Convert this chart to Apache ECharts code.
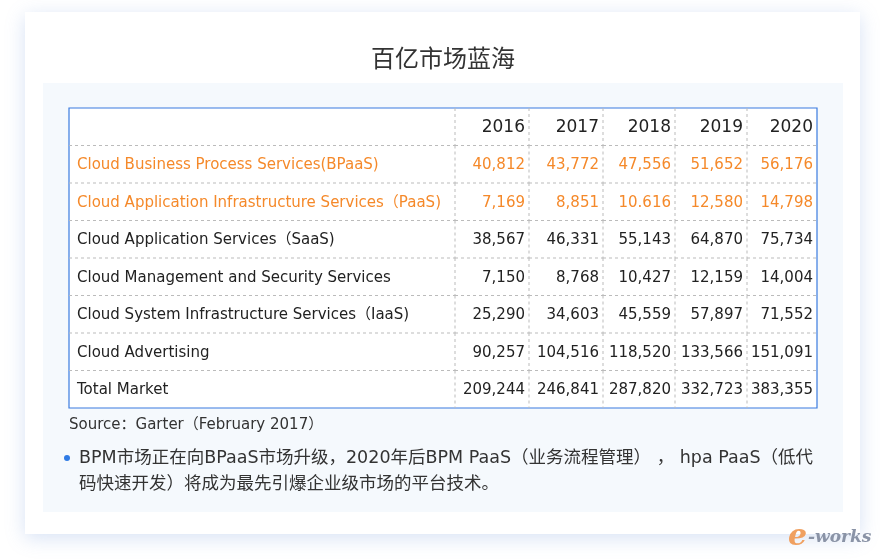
<!DOCTYPE html>
<html>
<head>
<meta charset="utf-8">
<script src="https://cdn.jsdelivr.net/npm/echarts@6/dist/echarts.min.js"></script>
<style>html,body{margin:0;padding:0;background:#fff}#main{width:880px;height:560px}</style>
</head>
<body>
<div id="main"></div>
<script>
// 表格数据
const years = ["2016", "2017", "2018", "2019", "2020"];
const categories = [
    "Cloud Business Process Services(BPaaS)",
    "Cloud Application Infrastructure Services（PaaS)",
    "Cloud Application Services（SaaS)",
    "Cloud Management and Security Services",
    "Cloud System Infrastructure Services（IaaS)",
    "Cloud Advertising",
    "Total Market"
];
const values = [
    ["40,812", "43,772", "47,556", "51,652", "56,176"],
    ["7,169", "8,851", "10.616", "12,580", "14,798"],
    ["38,567", "46,331", "55,143", "64,870", "75,734"],
    ["7,150", "8,768", "10,427", "12,159", "14,004"],
    ["25,290", "34,603", "45,559", "57,897", "71,552"],
    ["90,257", "104,516", "118,520", "133,566", "151,091"],
    ["209,244", "246,841", "287,820", "332,723", "383,355"]
];
const highlightRows = [0, 1];

// 列边界（表格坐标）
const colEdges = [0, 386, 460, 534, 606, 678, 748];
const nRows = categories.length + 1;
const FONT = "'DejaVu Sans', 'Noto Sans CJK SC'";

let cells = [];
years.forEach((y, j) => cells.push([0, j + 1, y]));
categories.forEach((c, i) => {
    cells.push([i + 1, 0, c]);
    values[i].forEach((v, j) => cells.push([i + 1, j + 1, v]));
});

let myChart = echarts.init(document.getElementById("main"));
myChart.setOption({
    animation: false,
    backgroundColor: "#fff",
    graphic: [
        {type: "rect", shape: {x: 25, y: 12, width: 835, height: 522},
         style: {fill: "#fff", shadowBlur: 18, shadowColor: "rgba(110,150,220,0.28)", shadowOffsetY: 4}},
        {type: "rect", shape: {x: 43, y: 83, width: 800, height: 429}, style: {fill: "#f5f9fd"}},
        {type: "text", x: 443, y: 58, style: {text: "百亿市场蓝海", font: "24px 'Noto Sans CJK SC'", fill: "#333", align: "center", verticalAlign: "middle"}},
        {type: "text", x: 69, y: 425, style: {text: "Source：Garter（February 2017）", font: "15px " + FONT, fill: "#333", verticalAlign: "middle"}},
        {type: "circle", shape: {cx: 67, cy: 458, r: 3}, style: {fill: "#2f7be5"}},
        {type: "text", x: 79, y: 458, style: {text: "BPM市场正在向BPaaS市场升级，2020年后BPM PaaS（业务流程管理） ， hpa PaaS（低代", font: "17.5px " + FONT, fill: "#333", verticalAlign: "middle"}},
        {type: "text", x: 79, y: 484, style: {text: "码快速开发）将成为最先引爆企业级市场的平台技术。", font: "17.5px " + FONT, fill: "#333", verticalAlign: "middle"}},
        {type: "text", x: 788, y: 537, style: {text: "e", font: "italic bold 30px 'DejaVu Serif'", fill: "#f0a060", verticalAlign: "middle"}},
        {type: "text", x: 808, y: 538, style: {text: "-works", font: "italic bold 17px 'DejaVu Serif'", fill: "#8a93a6", verticalAlign: "middle"}}
    ],
    grid: {left: 69, right: 63, top: 108, bottom: 152},
    xAxis: {type: "value", min: 0, max: 748, show: false},
    yAxis: {type: "value", min: 0, max: nRows, inverse: true, show: false},
    series: [{
        type: "custom",
        data: cells,
        encode: {x: 1, y: 0},
        renderItem: function (params, api) {
            let r = api.value(0), c = api.value(1), txt = cells[params.dataIndex][2];
            let p0 = api.coord([colEdges[c], r]);
            let p1 = api.coord([colEdges[c + 1], r + 1]);
            let children = [];
            // 虚线格线
            if (r > 0) children.push({type: "line", shape: {x1: p0[0], y1: p0[1], x2: p1[0], y2: p0[1]},
                style: {stroke: "#bbb", lineDash: [3, 3], lineWidth: 1}});
            if (c > 0) children.push({type: "line", shape: {x1: p0[0], y1: p0[1], x2: p0[0], y2: p1[1]},
                style: {stroke: "#bbb", lineDash: [3, 3], lineWidth: 1}});
            let orange = highlightRows.indexOf(r - 1) >= 0;
            children.push({type: "text", x: c === 0 ? p0[0] + 8 : p1[0] - 4, y: (p0[1] + p1[1]) / 2 + 1,
                style: {text: txt, align: c === 0 ? "left" : "right", verticalAlign: "middle",
                    font: (r === 0 ? "17px" : "15px") + " " + FONT,
                    fill: orange ? "#f5892a" : "#222"}});
            return {type: "group", children: children};
        },
        z: 2
    }, {
        type: "custom",
        data: [[0]],
        renderItem: function (params, api) {
            let a = api.coord([colEdges[0], 0]), b = api.coord([colEdges[colEdges.length - 1], nRows]);
            return {type: "rect", shape: {x: a[0], y: a[1], width: b[0] - a[0], height: b[1] - a[1]},
                style: {fill: "#fff", stroke: "#3a7be0", lineWidth: 1.2}, z2: -1};
        },
        z: 1
    }]
});
</script>
</body>
</html>
